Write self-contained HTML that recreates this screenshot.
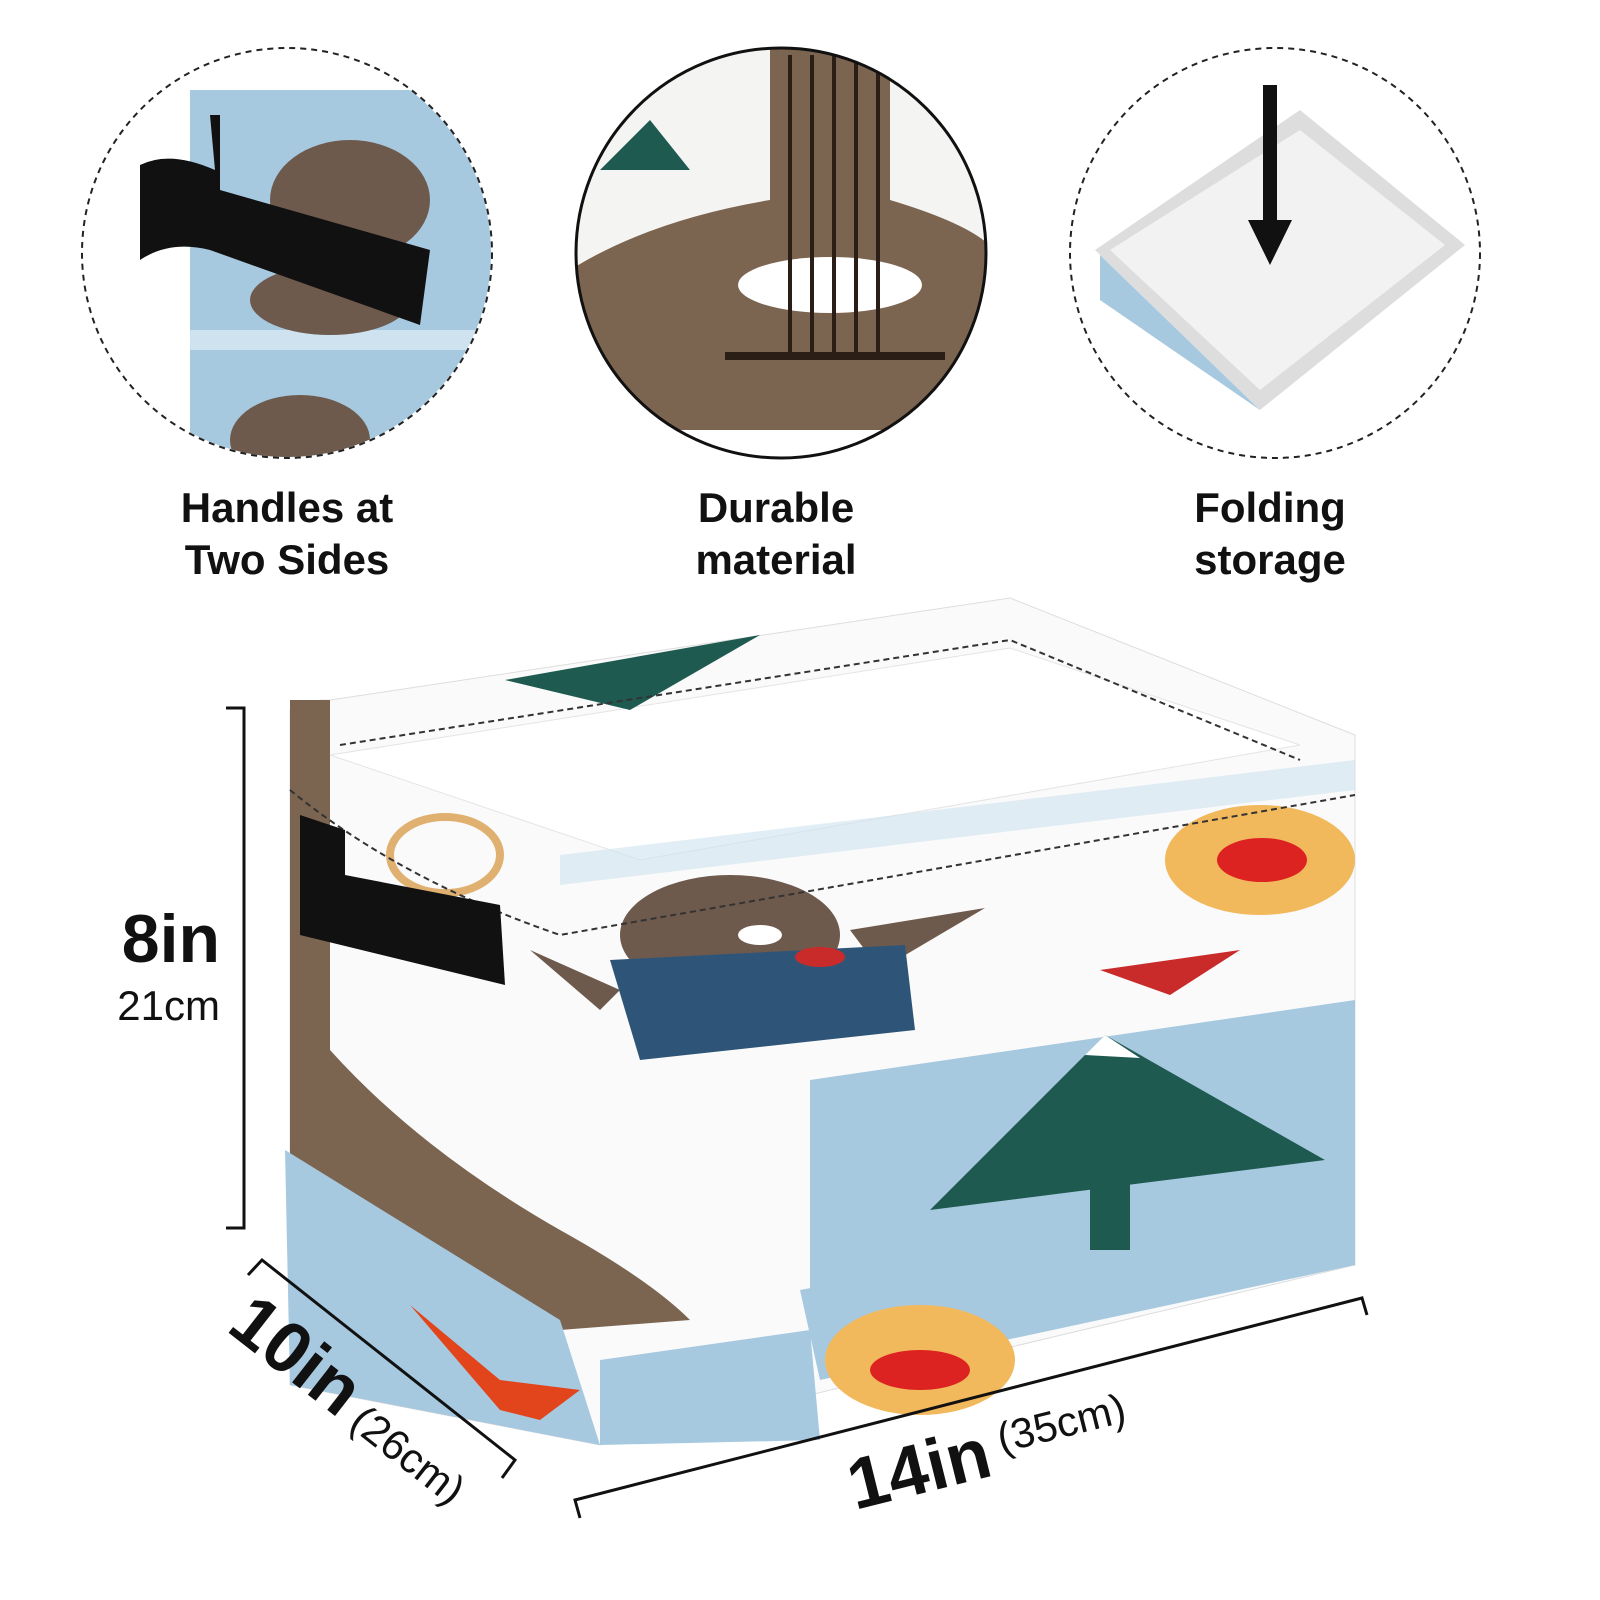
<!DOCTYPE html>
<html><head><meta charset="utf-8"><style>
body{margin:0;background:#fff}
svg{display:block}
.lab{font-family:"Liberation Sans Narrow","Liberation Sans",sans-serif;font-weight:bold;font-size:42px;fill:#111;text-anchor:middle}
</style></head><body>
<svg width="1600" height="1600" viewBox="0 0 1600 1600" xmlns="http://www.w3.org/2000/svg">
<defs>
<clipPath id="c1"><circle cx="287" cy="253" r="204"/></clipPath>
<clipPath id="c2"><circle cx="781" cy="253" r="204"/></clipPath>
<clipPath id="c3"><circle cx="1275" cy="253" r="204"/></clipPath>
</defs>
<rect width="1600" height="1600" fill="#fff"/>
<!-- circle 1 -->
<g clip-path="url(#c1)">
<rect x="190" y="90" width="310" height="380" fill="#a7c9e0"/>
<rect x="190" y="330" width="310" height="20" fill="#cfe2ef"/>
<ellipse cx="350" cy="200" rx="80" ry="60" fill="#6e5a4d"/>
<ellipse cx="330" cy="300" rx="80" ry="35" fill="#6e5a4d"/>
<ellipse cx="300" cy="440" rx="70" ry="45" fill="#6e5a4d"/>
<path d="M210 115 L215 170 Q170 150 140 165 L140 260 Q170 240 210 250 L420 325 L430 250 L220 190 L220 115Z" fill="#111"/>
</g>
<circle cx="287" cy="253" r="205" fill="none" stroke="#222" stroke-width="2" stroke-dasharray="6 5"/>
<!-- circle 2 -->
<g clip-path="url(#c2)">
<rect x="570" y="40" width="420" height="430" fill="#f4f4f2"/>
<path d="M770 40 H890 V200 Q990 230 1000 260 V430 H570 V270 Q650 220 770 200Z" fill="#7b6450"/>
<path d="M600 170 L650 120 L690 170Z" fill="#1f5a50"/>
<ellipse cx="830" cy="285" rx="92" ry="28" fill="#fff"/>
<g stroke="#2a1e16" stroke-width="4"><line x1="790" y1="55" x2="790" y2="355"/><line x1="812" y1="55" x2="812" y2="355"/><line x1="834" y1="55" x2="834" y2="355"/><line x1="856" y1="55" x2="856" y2="355"/><line x1="878" y1="55" x2="878" y2="355"/></g>
<rect x="725" y="352" width="220" height="8" fill="#2a1e16"/>
<rect x="570" y="430" width="420" height="40" fill="#fff"/>
</g>
<circle cx="781" cy="253" r="205" fill="none" stroke="#111" stroke-width="3"/>
<!-- circle 3 -->
<g clip-path="url(#c3)">
<path d="M1095 250 L1300 110 L1465 245 L1260 410Z" fill="#ddd"/>
<path d="M1110 250 L1300 130 L1445 245 L1260 390Z" fill="#f2f2f2"/>
<path d="M1100 255 L1260 410 L1100 300Z" fill="#a7c9e0"/>
<rect x="1263" y="85" width="14" height="140" fill="#111"/>
<path d="M1248 220 L1292 220 L1270 265Z" fill="#111"/>
</g>
<circle cx="1275" cy="253" r="205" fill="none" stroke="#222" stroke-width="2" stroke-dasharray="6 5"/>
<text class="lab" x="287" y="522">Handles at</text>
<text class="lab" x="287" y="574">Two Sides</text>
<text class="lab" x="776" y="522">Durable</text>
<text class="lab" x="776" y="574">material</text>
<text class="lab" x="1270" y="522">Folding</text>
<text class="lab" x="1270" y="574">storage</text>
<!-- basket -->
<path d="M290 710 Q300 700 330 700 L1010 598 L1355 735 L1355 1265 L600 1445 L290 1385Z" fill="#fafafa" stroke="#ddd"/>
<path d="M330 755 L1010 648 L1300 745 L640 860Z" fill="#fff" stroke="#e4e4e4"/>
<path d="M560 855 L1355 760 L1355 790 L560 885Z" fill="#cfe2ef" opacity=".6"/>
<!-- left side panel guitar -->
<path d="M290 700 L330 700 L330 1050 Q420 1150 560 1230 Q650 1280 690 1320 L560 1330 L290 1170Z" fill="#7b6450"/>
<path d="M285 1150 L560 1320 L600 1445 L290 1385Z" fill="#a7c9e0"/>
<path d="M800 1290 L1355 1185 L1355 1265 L820 1380Z" fill="#a7c9e0"/>
<path d="M600 1360 L810 1330 L820 1440 L600 1445Z" fill="#a7c9e0"/>
<!-- tree panel -->
<path d="M810 1080 L1355 1000 L1355 1190 L810 1290Z" fill="#a7c9e0"/>
<path d="M930 1210 L1105 1035 L1325 1160Z" fill="#1f5a50"/>
<rect x="1090" y="1180" width="40" height="70" fill="#1f5a50"/>
<path d="M1085 1055 L1105 1035 L1140 1058Z" fill="#fff"/>
<path d="M505 680 L760 635 L630 710Z" fill="#1f5a50"/>
<!-- bear -->
<ellipse cx="730" cy="935" rx="110" ry="60" fill="#6e5a4d"/>
<path d="M530 950 L620 990 L600 1010Z" fill="#6e5a4d"/>
<path d="M850 930 L985 908 L880 970Z" fill="#6e5a4d"/>
<path d="M610 960 L905 945 L915 1030 L640 1060Z" fill="#2e5577"/>
<ellipse cx="820" cy="957" rx="25" ry="10" fill="#c92a2a"/>
<ellipse cx="760" cy="935" rx="22" ry="10" fill="#fff"/>
<!-- dolls -->
<ellipse cx="1260" cy="860" rx="95" ry="55" fill="#f2b85c"/>
<ellipse cx="1262" cy="860" rx="45" ry="22" fill="#d22"/>
<ellipse cx="920" cy="1360" rx="95" ry="55" fill="#f2b85c"/>
<ellipse cx="920" cy="1370" rx="50" ry="20" fill="#d22"/>
<ellipse cx="445" cy="855" rx="55" ry="38" fill="none" stroke="#e0b070" stroke-width="8"/>
<path d="M1100 970 L1240 950 L1170 995Z" fill="#c92a2a"/>
<path d="M410 1305 L500 1380 L580 1390 L540 1420 L500 1410 Z" fill="#e2451c"/>
<!-- stitching -->
<path d="M340 745 L1010 640 L1300 760" fill="none" stroke="#333" stroke-width="2" stroke-dasharray="6 4"/>
<path d="M290 790 Q400 880 560 935 L1355 795" fill="none" stroke="#333" stroke-width="2" stroke-dasharray="6 4"/>
<!-- handle -->
<path d="M300 815 L345 830 L345 875 L500 905 L505 985 L300 935Z" fill="#111"/>
<!-- dimensions -->
<g stroke="#111" stroke-width="3" fill="none">
<path d="M226 708 H244 V1228 H226"/>
<path d="M248 1275 L262 1260 L515 1460 L502 1478"/>
<path d="M580 1518 L575 1500 L1362 1298 L1367 1315"/>
</g>
<g font-family="Liberation Sans Narrow,Liberation Sans,sans-serif" fill="#111">
<text x="220" y="962" font-size="68" font-weight="bold" text-anchor="end">8in</text>
<text x="220" y="1020" font-size="42" text-anchor="end" font-family="Liberation Sans,sans-serif">21cm</text>
<text transform="translate(225,1330) rotate(38)" font-size="72" font-weight="bold">10in<tspan font-size="42" font-weight="normal" font-family="Liberation Sans,sans-serif"> (26cm)</tspan></text>
<text transform="translate(855,1510) rotate(-14)" font-size="72" font-weight="bold">14in<tspan font-size="42" font-weight="normal" font-family="Liberation Sans,sans-serif" dy="-20"> (35cm)</tspan></text>
</g>
</svg>
</body></html>
